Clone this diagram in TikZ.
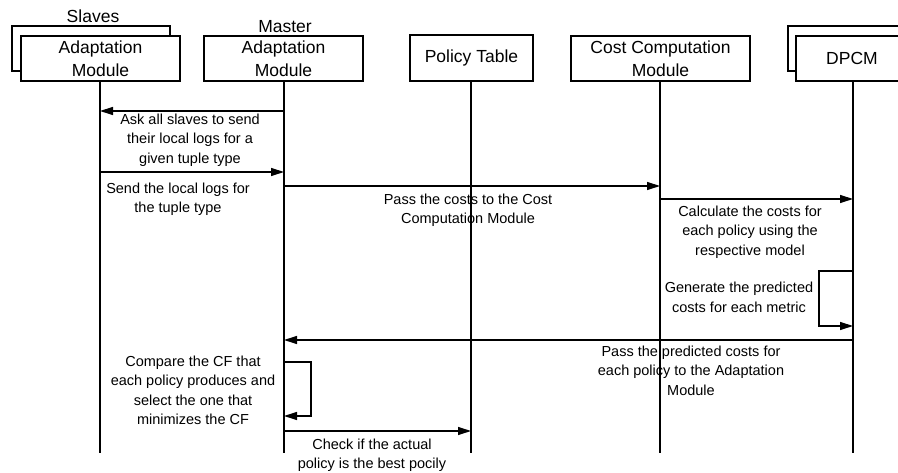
\documentclass[tikz,border=0pt]{standalone}
\usepackage{fontspec}
\setmainfont{Liberation Sans}
\usetikzlibrary{arrows.meta}
\begin{document}
\begin{tikzpicture}[x=1pt,y=-1pt,
  every node/.style={inner sep=0pt,outer sep=0pt},
  box/.style={draw,fill=white,line width=1.2pt,minimum height=45pt,align=center,
    font=\fontsize{17.5}{22.5}\selectfont},
  lifeline/.style={line width=1.2pt},
  msg/.style={line width=1.2pt,-{Triangle[length=13pt,width=8pt]}},
  lbl/.style={align=center,font=\fontsize{14.5}{19.4}\selectfont},
  ttl/.style={font=\fontsize{17.5}{20}\selectfont}]
\clip (0,0) rectangle (898,473);
\fill[white] (0,0) rectangle (898,473);
% boxes
\node[box,minimum width=158pt] (slback) at (91,48.5) {};
\node[box,minimum width=159pt] (sl) at (100.5,58.5) {Adaptation\\Module};
\node[ttl] (sltitle) at (93,16.5) {Slaves};
\node[box,minimum width=159pt] (ma) at (283.5,58.5) {Adaptation\\Module};
\node[ttl] (matitle) at (285,26.5) {Master};
\node[box,minimum width=123pt,minimum height=46pt] (pt) at (471.5,58) {Policy Table};
\node[box,minimum width=179pt] (cc) at (660.5,58.5) {Cost Computation\\Module};
\node[box,minimum width=112pt] (dpback) at (844,48.5) {};
\node[box,minimum width=112pt] (dp) at (852,58.5) {DPCM};
% lifeline ends
\coordinate (slend) at (100,453);
\coordinate (maend) at (284,453);
\coordinate (ptend) at (471,453);
\coordinate (ccend) at (660,453);
\coordinate (dpend) at (853,453);
\draw[lifeline] (sl.south -| slend) -- (slend);
\draw[lifeline] (ma.south -| maend) -- (maend);
\draw[lifeline] (pt.south -| ptend) -- (ptend);
\draw[lifeline] (cc.south -| ccend) -- (ccend);
\draw[lifeline] (dp.south -| dpend) -- (dpend);
% message points
\coordinate (m1a) at (284,111); \coordinate (m1b) at (100,111);
\coordinate (m2a) at (100,172); \coordinate (m2b) at (284,172);
\coordinate (m3a) at (284,186); \coordinate (m3b) at (660,186);
\coordinate (m4a) at (660,199); \coordinate (m4b) at (853,199);
\coordinate (s1a) at (853,271); \coordinate (s1b) at (819,271);
\coordinate (s1c) at (819,326); \coordinate (s1d) at (853,326);
\coordinate (m6a) at (853,340); \coordinate (m6b) at (284,340);
\coordinate (s2a) at (283,362); \coordinate (s2b) at (311,362);
\coordinate (s2c) at (311,416); \coordinate (s2d) at (284,416);
\coordinate (m8a) at (284,431); \coordinate (m8b) at (471,431);
\draw[msg] (m1a) -- (m1b);
\draw[msg] (m2a) -- (m2b);
\draw[msg] (m3a) -- (m3b);
\draw[msg] (m4a) -- (m4b);
\draw[msg] (s1a) -- (s1b) -- (s1c) -- (s1d);
\draw[msg] (m6a) -- (m6b);
\draw[msg] (s2a) -- (s2b) -- (s2c) -- (s2d);
\draw[msg] (m8a) -- (m8b);
% labels
\node[lbl] (t1) at (190,140) {Ask all slaves to send\\their local logs for a\\given tuple type};
\node[lbl] (t2) at (178,199) {Send the local logs for\\the tuple type};
\node[lbl] (t3) at (468,210.5) {Pass the costs to the Cost\\Computation Module};
\node[lbl] (t4) at (750,232) {Calculate the costs for\\each policy using the\\respective model};
\node[lbl] (t5) at (739,297.5) {Generate the predicted\\costs for each metric};
\node[lbl] (t6) at (691,370.5) {Pass the predicted costs for\\each policy to the Adaptation\\Module};
\node[lbl] (t7) at (193,390.5) {Compare the CF that\\each policy produces and\\select the one that\\minimizes the CF};
\node[lbl] (t8) at (372,455.5) {Check if the actual\\policy is the best pocily};
\end{tikzpicture}
\end{document}
